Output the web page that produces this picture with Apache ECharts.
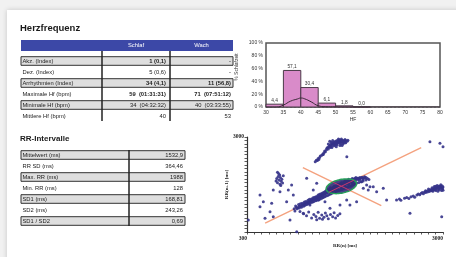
<!DOCTYPE html>
<html><head><meta charset="utf-8">
<script src="https://cdn.jsdelivr.net/npm/echarts@6/dist/echarts.min.js"></script>
<style>html,body{margin:0;padding:0;background:#f1f1f1}#c{width:456px;height:257px}</style>
</head><body><div id="c"></div>
<script>
// ---------- data ----------
const hfTitle = 'Herzfrequenz';
const hfColumns = ['Schlaf', 'Wach'];
const hfRowLabels = ['Akz. (Index)', 'Dez. (Index)', 'Arrhythmien (Index)', 'Maximale Hf (bpm)', 'Minimale Hf (bpm)', 'Mittlere Hf (bpm)'];
const hfSchlaf = ['1 (0,1)', '5 (0,6)', '34 (4,1)', '59  (01:31:31)', '34  (04:32:32)', '40'];
const hfWach = ['-', '-', '11 (56,8)', '71  (07:51:12)', '40  (03:33:55)', '53'];
const hfBold = [true, false, true, true, false, false];

const rrTitle = 'RR-Intervalle';
const rrLabels = ['Mittelwert (ms)', 'RR SD (ms)', 'Max. RR (ms)', 'Min. RR (ms)', 'SD1 (ms)', 'SD2 (ms)', 'SD1 / SD2'];
const rrValues = ['1532,9', '364,46', '1988', '128', '168,81', '243,26', '0,69'];

const histBinStart = [30, 35, 40, 45, 50, 55];
const histValues = [4.4, 57.1, 30.4, 6.1, 1.8, 0.0];
const histLabels = ['4,4', '57,1', '30,4', '6,1', '1,8', '0,0'];
const curveHF = [30, 33, 35, 37, 39, 40, 41, 43, 45, 47, 50, 55, 60, 80];
const curvePct = [0, 0, 3, 9, 12.5, 14, 13, 8, 2, 0.5, 0.3, 0, 0, 0];

const poincareCenter = [1600, 1600];
const poincareSD1 = 168.81;
const poincareSD2 = 243.26;
const identityLine = [[550, 550], [2700, 2700]];
const perpLine = [[1070, 2130], [2150, 1050]];

const bandPoints = '950,960 980,1000 1000,990 1020,1040 1040,1030 1060,1080 1075,1060 1090,1110 1100,1090 1115,1130 1130,1120 1140,1160 1150,1140 1165,1190 1170,1160 1185,1200 1190,1180 1200,1230 1210,1210 1220,1250 1225,1220 1235,1260 1240,1240 1250,1280 1255,1250 1265,1290 1270,1270 1280,1310 1285,1280 1295,1320 1300,1300 1310,1340 1315,1310 1320,1360 1330,1330 1335,1370 1340,1350 1350,1390 1355,1360 1360,1400 1370,1380 1375,1420 1380,1390 1390,1430 1395,1410 1400,1450 1410,1420 1415,1460 1420,1440 1430,1480 1435,1450 1440,1490 1450,1470 1455,1510 1460,1480 1470,1520 1475,1490 1480,1540 1490,1510 1495,1550 1500,1520 1510,1560 1515,1530 1520,1580 1530,1550 1535,1590 1540,1560 1550,1600 1555,1570 1560,1620 1570,1590 1575,1630 1580,1600 1590,1640 1595,1610 1600,1660 1610,1620 1615,1670 1620,1640 1630,1680 1635,1650 1640,1700 1650,1660 1655,1710 1660,1680 1670,1720 1680,1690 1690,1740 1700,1700 1710,1750 1720,1720 1730,1770 1740,1730 1750,1780 1760,1750 1770,1800 1780,1760 1790,1810 1800,1780 1820,1830 1830,1790 1850,1840 1860,1810 1880,1850 1900,1830 1920,1870 1940,1850 ' +
 '960,900 970,1040 990,960 1010,1080 1020,980 1035,1100 1050,1000 1060,1120 1080,1030 1090,1150 1100,1060 1110,1170 1125,1080 1140,1200 1150,1100 1160,1230 1175,1130 1185,1240 1200,1150 1210,1270 1220,1170 1230,1290 1245,1190 1255,1310 1270,1210 ' +
 '1280,1350 1290,1220 1300,1370 1310,1240 1320,1390 1330,1260 1340,1410 1350,1280 1360,1430 1370,1300 1380,1460 1390,1320 1400,1480 1410,1340 1420,1500 1430,1360 1440,1520 1450,1380 1460,1540 1470,1400 1480,1560 1490,1420 1500,1580 1510,1440 1520,1600 1530,1460 1540,1620 1550,1470 ' +
 '1560,1650 1570,1480 1580,1670 1590,1500 1600,1690 1610,1510 1620,1700 1630,1530 1640,1720 1650,1540 1660,1740 1670,1560 1680,1750 1690,1580 1700,1770 1710,1590 1720,1780 1730,1610 1740,1790 1750,1630 1760,1800 1770,1650 1780,1810 1790,1670 1800,1820 1810,1690 1830,1830 1840,1710 1860,1840 1870,1730 1890,1850 1900,1750 1920,1840 1940,1780 1960,1820 1980,1790 ' +
 '1450,1400 1500,1450 1550,1500 1600,1550 1650,1600 1700,1650 1750,1700 1400,1500 1450,1560 1500,1600 1550,1650 1600,1700 1650,1750 1700,1800 1350,1300 1300,1250 1250,1200 1200,1150 1800,1850 1750,1820 1850,1780 1900,1790';
const upperPoints = '1240,2300 1255,2340 1270,2330 1280,2390 1300,2420 1310,2460 1330,2480 1345,2520 1360,2550 1370,2600 1380,2580 1395,2640 1400,2680 1410,2700 1420,2660 1430,2730 1440,2760 1445,2700 1450,2790 1460,2740 1470,2810 1475,2770 1480,2840 1490,2800 1500,2860 1505,2820 1510,2780 1520,2880 1525,2840 1530,2800 1540,2900 1545,2860 1550,2830 1560,2890 1565,2850 1570,2920 1580,2880 1585,2840 1590,2900 1600,2870 1610,2910 1615,2860 1620,2890 1630,2850 1640,2900 1650,2870 1660,2840 1675,2440 1290,2360 1350,2500 ' +
 '1420,2800 1440,2880 1460,2850 1480,2900 1500,2750 1520,2820 1540,2780 1560,2940 1580,2760 1600,2940 1620,2800 1640,2830 1660,2900 1470,2700 1530,2720 1590,2800 1610,2760 1650,2930 1680,2880 1690,2910';
const rightPoints = '2360,1210 2400,1240 2420,1200 2470,1260 2500,1280 2530,1250 2560,1300 2590,1320 2610,1290 2640,1350 2660,1380 2680,1360 2700,1400 2715,1420 2730,1390 2745,1440 2760,1420 2770,1460 2785,1440 2800,1480 2810,1450 2820,1500 2830,1470 2840,1510 2850,1480 2860,1530 2870,1500 2880,1540 2890,1510 2900,1560 2910,1520 2920,1550 2930,1580 2940,1530 2950,1570 2960,1540 2970,1590 2980,1550 2990,1570 2995,1520 3000,1580 2950,1500 2900,1480 2880,1590 2960,1610 ' +
 '2900,1600 2920,1620 2940,1600 2970,1640 2990,1610 3000,1490 2980,1480 2930,1460 2860,1460 2850,1560 2800,1520 2760,1470';
const leftPoints = '700,1750 710,1820 720,1700 730,1880 740,1780 750,1920 755,1660 760,1850 770,1740 780,1800 790,1690 800,1900 735,1960 765,1620 720,2000';
const lowerPoints = '1030,880 1080,820 1120,760 1150,870 1190,700 1220,800 1250,740 1280,860 1300,690 1330,780 1360,720 1380,840 1400,760 1420,680 1450,800 1480,730 1500,850 1520,700 1550,770 1580,820 1260,650 1340,660';
const sparsePoints = '479,1352 525,1161 662,1494 640,1116 754,1445 915,1636 869,1494 938,1352 846,1161 548,689 662,735 892,641 985,310 318,641 1075,831 1167,1067 1282,1209 1374,1161 1443,973 1581,1067 1673,1209 1718,1067 1810,1161 1970,1494 2039,1587 2086,1445 2177,1540 2223,1209 2545,831 2982,735 2820,2866 2958,2820 3000,2725 1122,1826 1260,1688 1213,1494 617,877 479,1019 1879,1731 1948,1636 1994,1587 1902,1540';

function parsePts(s) { return s.trim().split(/\s+/).map(p => p.split(',').map(Number)); }
const poincarePoints = [].concat(parsePts(bandPoints), parsePts(upperPoints), parsePts(rightPoints),
  parsePts(leftPoints), parsePts(lowerPoints), parsePts(sparsePoints));

const rrTicks = [];
for (let v = 300; v <= 3000; v += 100) rrTicks.push(v);
const rrXAxisLabels = [300, 3000];
const rrYAxisLabels = [3000];

// ---------- layout ----------
const FONT = '"Liberation Sans", Arial, sans-serif';
const SERIF = '"Liberation Serif", "Times New Roman", serif';
const graphics = [];
graphics.push({type: 'rect', z: -20, shape: {x: 7, y: 10, width: 470, height: 260},
  style: {fill: '#ffffff', shadowBlur: 5, shadowColor: 'rgba(0,0,0,0.18)'}});

function txt(x, y, s, opt) {
  graphics.push({type: 'text', z: 5, x: x, y: y,
    style: Object.assign({text: s, font: '5.8px ' + FONT, fill: '#222', align: 'left', verticalAlign: 'middle'}, opt || {})});
}

// table 1
const t1 = {left: 21, right: 233, col1: 102, col2: 170, headTop: 40, headBot: 51, row0: 61, pitch: 11};
txt(20, 28, hfTitle, {font: 'bold 9.5px ' + FONT, fill: '#1a1a1a'});
graphics.push({type: 'rect', z: 2, shape: {x: t1.left, y: t1.headTop, width: t1.right - t1.left, height: t1.headBot - t1.headTop}, style: {fill: '#3c48a7'}});
txt((t1.col1 + t1.col2) / 2, (t1.headTop + t1.headBot) / 2, hfColumns[0], {fill: '#fff', align: 'center'});
txt((t1.col2 + t1.right) / 2, (t1.headTop + t1.headBot) / 2, hfColumns[1], {fill: '#fff', align: 'center'});
hfRowLabels.forEach((lab, i) => {
  const cy = t1.row0 + i * t1.pitch;
  if (i % 2 === 0) {
    graphics.push({type: 'rect', z: 2, shape: {x: t1.left, y: cy - 4.3, width: t1.right - t1.left, height: 8.6},
      style: {fill: '#dedede', stroke: '#333', lineWidth: 1}});
  }
  txt(t1.left + 1.5, cy, lab);
  const f = (hfBold[i] ? 'bold ' : '') + '5.8px ' + FONT;
  txt(t1.col2 - 4, cy, hfSchlaf[i], {align: 'right', font: f});
  txt(t1.right - 2, cy, hfWach[i], {align: 'right', font: f});
});
[t1.col1, t1.col2].forEach(x => graphics.push({type: 'line', z: 3,
  shape: {x1: x, y1: t1.headBot, x2: x, y2: t1.row0 + 5 * t1.pitch + 5}, style: {stroke: '#222', lineWidth: 1.5}}));

// table 2
const t2 = {left: 21, right: 185, col1: 129, row0: 155, pitch: 11};
txt(20, 139, rrTitle, {font: 'bold 8px ' + FONT, fill: '#1a1a1a'});
rrLabels.forEach((lab, i) => {
  const cy = t2.row0 + i * t2.pitch;
  if (i % 2 === 0) {
    graphics.push({type: 'rect', z: 2, shape: {x: t2.left, y: cy - 4.3, width: t2.right - t2.left, height: 8.6},
      style: {fill: '#dedede', stroke: '#333', lineWidth: 1}});
  }
  txt(t2.left + 1.5, cy, lab);
  txt(t2.right - 2, cy, rrValues[i], {align: 'right'});
});
graphics.push({type: 'line', z: 3, shape: {x1: t2.col1, y1: t2.row0 - 5, x2: t2.col1, y2: t2.row0 + 6 * t2.pitch + 5}, style: {stroke: '#222', lineWidth: 1.5}});

// histogram y name
graphics.push({type: 'text', z: 5, x: 237, y: 67, rotation: Math.PI / 2,
  style: {text: '% Schlafzeit', font: '5px ' + FONT, fill: '#333', align: 'center', verticalAlign: 'middle'}});

// ---------- chart ----------
const chart = echarts.init(document.getElementById('c'), null, {renderer: 'canvas'});
const axisFont = {fontSize: 5, color: '#333', fontFamily: FONT};
const rrLabelStyle = {fontSize: 5.5, fontWeight: 'bold', color: '#222', fontFamily: SERIF, formatter: v => String(v)};

chart.setOption({
  backgroundColor: '#f1f1f1',
  animation: false,
  graphic: graphics,
  grid: [
    {left: 266, top: 43, width: 174, height: 64, show: true, borderColor: '#555', borderWidth: 1.5, backgroundColor: '#fff', z: 1},
    {left: 247, top: 137, width: 196, height: 95, show: false}
  ],
  xAxis: [
    {type: 'value', gridIndex: 0, min: 30, max: 80, interval: 5,
      axisLabel: Object.assign({margin: 3}, axisFont), axisTick: {show: false}, axisLine: {show: false}, splitLine: {show: false},
      name: 'HF', nameLocation: 'middle', nameGap: 10, nameTextStyle: axisFont},
    {type: 'value', gridIndex: 1, min: 300, max: 3000,
      axisLine: {lineStyle: {color: '#333', width: 1.2}},
      axisTick: {customValues: rrTicks, length: 2.5, lineStyle: {color: '#333', width: 0.8}},
      axisLabel: Object.assign({customValues: rrXAxisLabels, margin: 4, alignMinLabel: 'right', alignMaxLabel: 'right'}, rrLabelStyle),
      splitLine: {show: false},
      name: 'RR(n) [ms]', nameLocation: 'middle', nameGap: 5, nameTextStyle: {fontSize: 5, fontWeight: 'bold', color: '#222', fontFamily: SERIF}}
  ],
  yAxis: [
    {type: 'value', gridIndex: 0, min: 0, max: 100, interval: 20,
      axisLabel: Object.assign({margin: 3, formatter: '{value} %'}, axisFont), axisTick: {show: false}, axisLine: {show: false},
      splitLine: {lineStyle: {type: [2, 2], color: '#999', width: 0.8}}},
    {type: 'value', gridIndex: 1, min: 300, max: 3000,
      axisLine: {lineStyle: {color: '#333', width: 1.2}},
      axisTick: {customValues: rrTicks, length: 2.5, lineStyle: {color: '#333', width: 0.8}},
      axisLabel: Object.assign({customValues: rrYAxisLabels, margin: 3}, rrLabelStyle),
      splitLine: {show: false},
      name: 'RR(n+1) [ms]', nameLocation: 'middle', nameGap: 5, nameTextStyle: {fontSize: 5, fontWeight: 'bold', color: '#222', fontFamily: SERIF}}
  ],
  series: [
    {type: 'custom', xAxisIndex: 0, yAxisIndex: 0, z: 3,
      data: histBinStart.map((s, i) => [s, histValues[i]]),
      renderItem: function (params, api) {
        const x0 = api.value(0), v = api.value(1);
        const p0 = api.coord([x0, v]);
        const p1 = api.coord([x0 + 5, 0]);
        return {type: 'group', children: [
          {type: 'rect', shape: {x: p0[0], y: p0[1], width: p1[0] - p0[0], height: p1[1] - p0[1]},
            style: {fill: '#d98bc9', stroke: '#4a3a48', lineWidth: 1}},
          {type: 'text', style: {text: histLabels[params.dataIndex], x: (p0[0] + p1[0]) / 2, y: p0[1] - 1,
            align: 'center', verticalAlign: 'bottom', font: '4.8px ' + FONT, fill: '#333'}}
        ]};
      }},
    {type: 'line', xAxisIndex: 0, yAxisIndex: 0, z: 4, smooth: true, symbol: 'none',
      data: curveHF.map((h, i) => [h, curvePct[i]]),
      lineStyle: {color: '#3a2a38', width: 1}},
    {type: 'line', xAxisIndex: 1, yAxisIndex: 1, z: 2, symbol: 'none', data: identityLine,
      lineStyle: {color: '#f4a27f', width: 1.4}},
    {type: 'line', xAxisIndex: 1, yAxisIndex: 1, z: 2, symbol: 'none', data: perpLine,
      lineStyle: {color: '#f4a27f', width: 1.4}},
    {type: 'scatter', xAxisIndex: 1, yAxisIndex: 1, z: 3, symbolSize: 3,
      data: poincarePoints, itemStyle: {color: '#35338a', opacity: 0.9}},
    {type: 'custom', xAxisIndex: 1, yAxisIndex: 1, z: 5, clip: false,
      data: [[poincareCenter[0], poincareCenter[1], poincareSD1, poincareSD2]],
      renderItem: function (params, api) {
        const cx = api.value(0), cy = api.value(1), s1 = api.value(2), s2 = api.value(3);
        const r = Math.SQRT1_2;
        const pts = [];
        for (let k = 0; k < 72; k++) {
          const t = k / 72 * Math.PI * 2;
          const u = s2 * Math.cos(t), w = s1 * Math.sin(t);
          pts.push(api.coord([cx + (u - w) * r, cy + (u + w) * r]));
        }
        const a1 = api.coord([cx - s2 * r, cy - s2 * r]), a2 = api.coord([cx + s2 * r, cy + s2 * r]);
        const b1 = api.coord([cx + s1 * r, cy - s1 * r]), b2 = api.coord([cx - s1 * r, cy + s1 * r]);
        return {type: 'group', children: [
          {type: 'polygon', shape: {points: pts}, style: {fill: 'rgba(50,44,120,0.9)', stroke: '#27a05a', lineWidth: 1.5}},
          {type: 'line', shape: {x1: a1[0], y1: a1[1], x2: a2[0], y2: a2[1]}, style: {stroke: '#c8386e', lineWidth: 1}},
          {type: 'line', shape: {x1: b1[0], y1: b1[1], x2: b2[0], y2: b2[1]}, style: {stroke: '#c8386e', lineWidth: 1}}
        ]};
      }}
  ]
});
</script>
</body></html>
